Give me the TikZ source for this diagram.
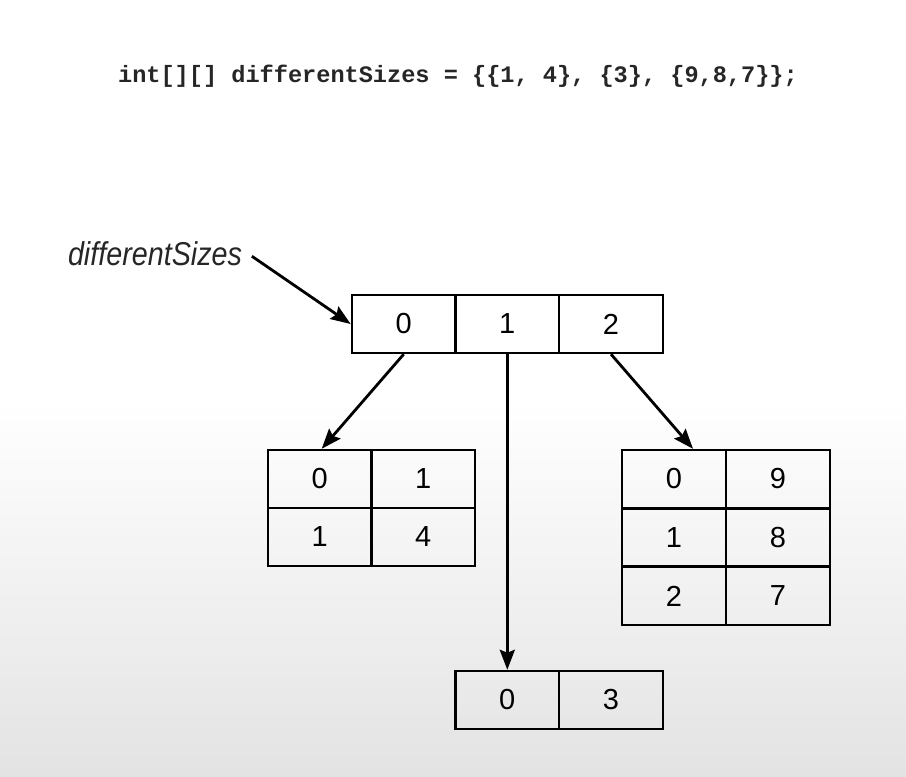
\documentclass[tikz,border=0pt]{standalone}
\usepackage{fontspec}
\setmainfont{Liberation Sans}
\setmonofont{Liberation Mono}
\usetikzlibrary{arrows.meta,calc}
\tikzset{
  cell/.style={draw, line width=2.4pt, rectangle, inner sep=0pt,
    minimum width=103.7pt, minimum height=58pt,
    font=\fontsize{29}{32}\selectfont},
  ptr/.style={line width=2.8pt, -{Stealth[length=20pt,width=15pt,inset=3pt]}}
}
\begin{document}
\begin{tikzpicture}[x=1pt,y=-1pt]
\useasboundingbox (0,0) rectangle (906,777);
\fill[white] (0,0) rectangle (906,400);
\shade[top color=white,bottom color=black!11] (0,400) rectangle (906,777);

\node[anchor=base, font=\ttfamily\bfseries\fontsize{23.6}{28}\selectfont, text=black!85] (code) at (458,82)
  {int[][] differentSizes = \{\{1, 4\}, \{3\}, \{9,8,7\}\};};

\node[anchor=base, font=\itshape\fontsize{33}{36}\selectfont, xscale=0.87, inner sep=2pt, text=black!85] (lab) at (155,265) {differentSizes};

% top array
\node[cell] (t0) at (403.7,324) {0};
\node[cell] (t1) at (507.3,324) {1};
\node[cell] (t2) at (611,324) {2};

% left 2x2
\node[cell] (l00) at (319.7,479) {0};
\node[cell] (l01) at (423.3,479) {1};
\node[cell] (l10) at (319.7,537) {1};
\node[cell] (l11) at (423.3,537) {4};

% right 3x2
\node[cell] (r00) at (674,479) {0};
\node[cell] (r01) at (778,479) {9};
\node[cell] (r10) at (674,537.5) {1};
\node[cell] (r11) at (778,537.5) {8};
\node[cell] (r20) at (674,596) {2};
\node[cell] (r21) at (778,596) {7};

% bottom
\node[cell] (b0) at (507.3,700) {0};
\node[cell] (b1) at (611,700) {3};

% arrows
\coordinate (labout) at ($(lab.east)+(8,3)$);
\draw[ptr] (labout) -- (t0.west);
\draw[ptr] (t0.south) -- ($(l00.north)+(2,0)$);
\draw[ptr] (t1.south) -- (b0.north);
\draw[ptr] (t2.south) -- ($(r00.north)+(19,0)$);
\end{tikzpicture}
\end{document}
